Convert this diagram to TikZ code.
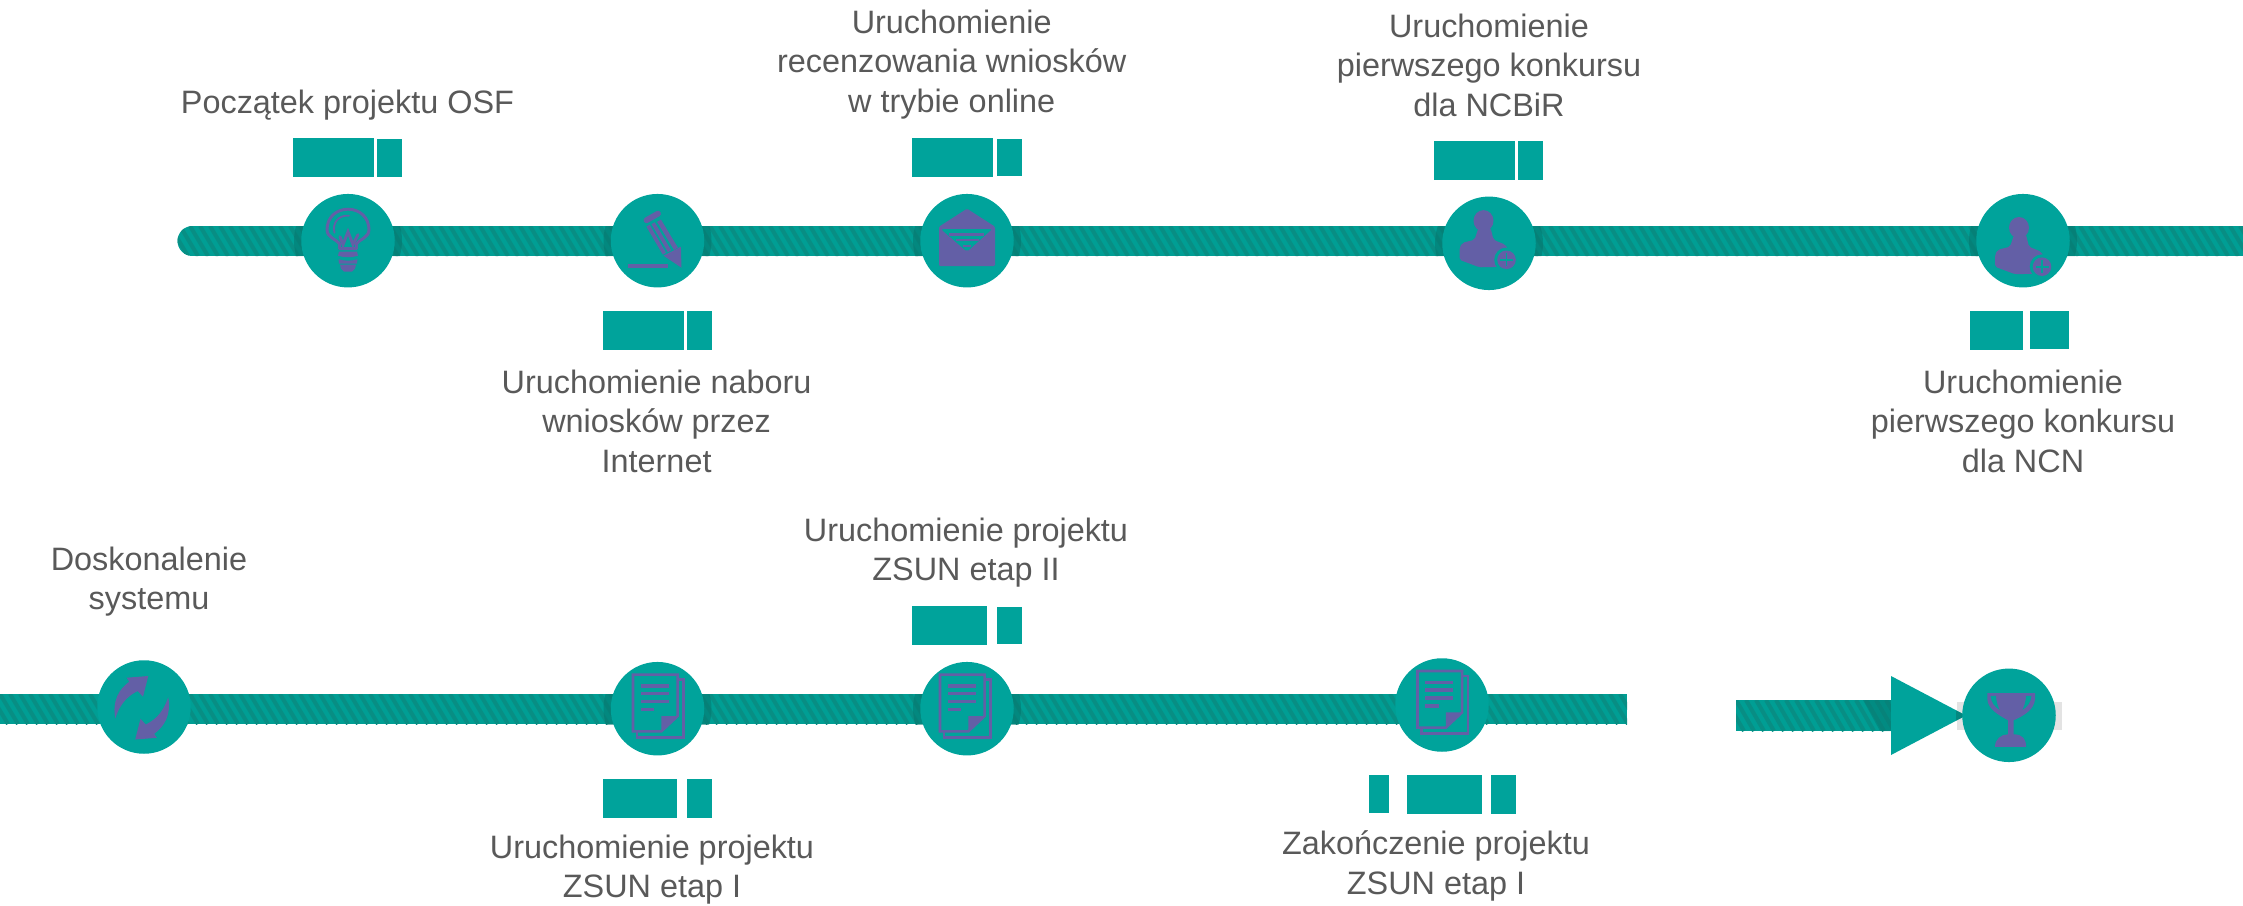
\documentclass[tikz,border=0pt]{standalone}
\usepackage{fontspec}
\setmainfont{Liberation Sans}
\definecolor{tealc}{RGB}{0,163,155}
\definecolor{barc}{RGB}{0,158,148}
\definecolor{stripec}{RGB}{8,142,132}
\definecolor{haloc}{RGB}{6,118,110}
\definecolor{iconc}{RGB}{99,95,166}
\definecolor{txtc}{RGB}{89,89,89}
\tikzset{
  block/.style={fill=tealc,draw=none,inner sep=0pt,minimum height=39*0.75pt},
  disc/.style={circle,fill=tealc,draw=none,inner sep=0pt,minimum size=93.5*0.75pt},
  lbl/.style={font=\fontsize{24.3pt}{29.8pt}\selectfont,text=txtc,align=center,inner sep=0pt,anchor=north},
  iconfill/.style={fill=iconc,draw=none},
  iconline/.style={draw=iconc,fill=none,line cap=round,line join=round},
  tealfill/.style={fill=tealc,draw=none},
  barbase/.style={fill=barc,draw=none},
  stripe/.style={draw=stripec,line width=3pt},
  halo/.style={fill=haloc,draw=none,opacity=.55},
}
% stripes across a band: x from, x to, y top, y bottom
\newcommand{\stripes}[4]{%
  \foreach \sx in {#1,\numexpr#1+10\relax,...,#2}{\draw[stripe] (\sx,#3) -- ++(18,{#4-#3});}}
\newcommand{\iconbulb}[2]{\begin{scope}[shift={(#1,#2)}]
  \draw[iconline,line width=2.2pt] (-8.5,8) -- (-8.5,3) .. controls (-11,-1) and (-21,-3) .. (-21,-11)
     .. controls (-21,-23) and (-12,-31.5) .. (0,-31.5) .. controls (12,-31.5) and (21,-23) .. (21,-11)
     .. controls (21,-3) and (11,-1) .. (8.5,3) -- (8.5,8) -- cycle;
  \draw[iconline,line width=1.4pt] (-13.5,-8) .. controls (-16,-17) and (-10,-26) .. (1,-25);
  \draw[iconline,line width=2.2pt,line join=miter] (-8,-4) -- (-5,4) -- (0,-9) -- (5,4) -- (10,-6);
  \fill[iconfill] (-9,11) -- (9,11) -- (10,15) .. controls (4,17) and (-4,17) .. (-10,15) -- cycle;
  \fill[iconfill] (-9.5,18.5) .. controls (-4,20.5) and (4,20.5) .. (9.5,18.5) -- (9,23) -- (-9,23) -- cycle;
  \fill[iconfill] (-8,24) -- (8,24) -- (7,28) -- (4,31) -- (-4,31) -- (-7,28) -- cycle;
\end{scope}}
\newcommand{\iconpencil}[2]{\begin{scope}[shift={(#1,#2)}]
  \fill[iconfill] (6,15) -- (23.4,6) -- (24,27) -- cycle;
  \draw[iconline,line width=4.4pt] (-11,-20.5) -- (0.5,-27);
  \draw[iconline,line width=2.8pt,line cap=butt] (-9.5,-15) -- (6.9,13);
  \draw[iconline,line width=2.8pt,line cap=butt] (-4.4,-17.5) -- (12,10.5);
  \draw[iconline,line width=3.4pt,line cap=butt] (1.5,-20) -- (18.4,8);
  \draw[iconline,line width=2.6pt,line cap=butt] (-30,25.3) -- (10.7,25.3);
\end{scope}}
\newcommand{\iconmail}[2]{\begin{scope}[shift={(#1,#2)}]
  \fill[iconfill,rounded corners=1pt] (-28,25.5) -- (28,25.5) -- (28,-14) -- (0,-32) -- (-28,-14) -- cycle;
  \fill[tealfill,rounded corners=1.5pt] (-26,-11.5) -- (25,-11.5) -- (0,11) -- cycle;
  \fill[iconfill] (-18,-7.5) rectangle (17,-5);
  \fill[iconfill] (-11,-1.5) rectangle (12,0.5);
  \fill[iconfill] (-4,4) rectangle (4,6);
\end{scope}}
\newcommand{\iconperson}[2]{\begin{scope}[shift={(#1,#2)}]
  \fill[iconfill] (-4,-13) ellipse [x radius=10,y radius=10.7];
  \fill[iconfill,rounded corners=1.5pt] (-28,26) -- (-28,14) -- (-25,9) -- (-13,6) -- (-9,-6) -- (3,-6) -- (6,6) -- (18,11) -- (24,22) -- (14,33) -- (-8,33.5) -- cycle;
  \fill[tealfill] (19,26) circle [radius=12.3];
  \fill[iconfill] (19,26) circle [radius=9.3];
  \fill[tealfill] (12.5,25.2) rectangle (25.5,26.8);
  \fill[tealfill] (18.2,19.5) rectangle (19.8,32.5);
\end{scope}}
\newcommand{\icondoc}[2]{\begin{scope}[shift={(#1,#2)}]
  \draw[iconline,line width=1.9pt,line cap=butt,line join=miter] (-27,-34) -- (17.7,-34) -- (17.7,7.3) -- (1.3,22.7) -- (-27,22.7) -- cycle;
  \draw[iconline,line width=1.9pt,line cap=butt,line join=miter] (-23,22.7) -- (-23,28.7) -- (23.7,28.7) -- (23.7,-29) -- (17.7,-29);
  \fill[iconfill] (1.3,7.3) -- (17.7,7.3) -- (1.3,22.7) -- cycle;
  \fill[iconfill] (-19.3,-24.5) rectangle (8.7,-21);
  \fill[iconfill] (-19.3,-17) rectangle (8.7,-13.5);
  \fill[iconfill] (-19.3,-9) rectangle (8.7,-5.5);
  \fill[iconfill] (-19.3,-1) rectangle (-5.7,2.5);
\end{scope}}
\newcommand{\iconarrowhalf}{\fill[iconfill] (-28.7,11.3) .. controls (-32,-6) and (-25,-18) .. (-14.7,-25.3) -- (-17.3,-29.3) -- (4.3,-31) -- (-1,-10.3) -- (-6.3,-16) .. controls (-14,-12) and (-23,-6) .. (-28.7,11.3) -- cycle;}
\newcommand{\iconcycle}[2]{\begin{scope}[shift={(#1,#2)}]
  \iconarrowhalf
  \begin{scope}[shift={(-4.5,1.5)},xscale=-1,yscale=-1]\iconarrowhalf\end{scope}
\end{scope}}
\newcommand{\icontrophy}[2]{\begin{scope}[shift={(#1,#2)}]
  \fill[iconfill] (-21.7,-22.3) -- (26,-22.3) -- (26,-16) .. controls (25,-6) and (16,0) .. (4.5,5) -- (4.5,19) .. controls (14,19) and (17,24) .. (17,31.5) -- (-14,31.5) .. controls (-14,24) and (-8,19) .. (-1,19) -- (-1,5) .. controls (-10,0) and (-21,-6) .. (-21.7,-16) -- cycle;
  \fill[tealfill] (-18.5,-19.5) -- (-13,-19.5) .. controls (-13,-14) and (-11,-9) .. (-9.5,-5.5) .. controls (-14,-8) and (-18,-13) .. (-18.5,-19.5) -- cycle;
  \fill[tealfill] (22.5,-19.5) -- (17,-19.5) .. controls (17,-14) and (15,-9) .. (13.5,-5.5) .. controls (18,-8) and (22,-13) .. (22.5,-19.5) -- cycle;
\end{scope}}
\begin{document}
\begin{tikzpicture}[x=0.75pt,y=-0.75pt]
\useasboundingbox (0,0) rectangle (2243,906);
% top bar
\coordinate (t0) at (192.5,241);
\coordinate (t1) at (2243,241);
\begin{scope}
  \clip (t0) ++(0,-15) -- ++(2100,0) -- ++(0,30) -- ++(-2100,0) arc[start angle=90,end angle=270,radius=15] -- cycle;
  \fill[barbase] (170,226) rectangle (2243,256);
  \stripes{170}{2243}{226}{256}
  \fill[halo] (348,240.7) circle [radius=54];
  \fill[halo] (657.5,240.7) circle [radius=54];
  \fill[halo] (967,240.7) circle [radius=54];
  \fill[halo] (1489,243.3) circle [radius=54];
  \fill[halo] (2023,240.7) circle [radius=54];
\end{scope}
% bottom bar
\coordinate (b0) at (0,709);
\coordinate (b1) at (1627,709);
\begin{scope}
  \clip (0,694) rectangle (1627,724);
  \fill[barbase] (0,694) rectangle (1627,724);
  \stripes{-20}{1627}{694}{724}
  \fill[halo] (657.5,708.7) circle [radius=54];
  \fill[halo] (967,708.7) circle [radius=54];
\end{scope}
% arrow
\fill[gray!22] (1957,702) rectangle (2062,730);
\coordinate (a0) at (1736,715.5);
\begin{scope}
  \clip (1736,700) rectangle (1892,731);
  \fill[barbase] (1736,700) rectangle (1892,731);
  \stripes{1716}{1892}{700}{731}
  \fill[haloc,opacity=.45] (1863,700) -- (1892,700) -- (1892,731) -- (1880,731) -- cycle;
\end{scope}
\fill[tealc] (1891,676) -- (1966,715.5) -- (1891,755) -- cycle;
\fill[haloc,opacity=.6] (1956,710.5) -- (1966,715.5) -- (1956,720.5) -- cycle;

% discs
\node[disc] (c1) at (348,240.7) {};
\node[disc] (c2) at (657.5,240.7) {};
\node[disc] (c3) at (967,240.7) {};
\node[disc] (c4) at (1489,243.3) {};
\node[disc] (c5) at (2023,240.7) {};
\node[disc] (c6) at (144,707) {};
\node[disc] (c7) at (657.5,708.7) {};
\node[disc] (c8) at (967,708.7) {};
\node[disc] (c9) at (1442,705) {};
\node[disc] (c10) at (2009,715.3) {};
% icons
\iconbulb{348}{240.7}
\iconpencil{657.5}{240.7}
\iconmail{967}{240.7}
\iconperson{1487.5}{233.8}
\iconperson{2023}{240.7}
\iconcycle{144}{707}
\icondoc{660}{708.7}
\icondoc{967}{708.7}
\icondoc{1444.5}{705}
\icontrophy{2009}{715.3}
% date blocks
\node[block,minimum width=81*0.75pt] (r1a) at (333.5,157.5) {};
\node[block,minimum width=25*0.75pt,minimum height=38*0.75pt] (r1b) at (389.5,158) {};
\node[block,minimum width=81*0.75pt] (r2a) at (643.5,330.5) {};
\node[block,minimum width=25*0.75pt] (r2b) at (699.5,330.5) {};
\node[block,minimum width=81*0.75pt] (r3a) at (952.5,157.5) {};
\node[block,minimum width=25*0.75pt,minimum height=37*0.75pt] (r3b) at (1009.5,157.5) {};
\node[block,minimum width=81*0.75pt] (r4a) at (1474.5,160.5) {};
\node[block,minimum width=25*0.75pt] (r4b) at (1530.5,160.5) {};
\node[block,minimum width=53*0.75pt] (r5a) at (1996.5,330.5) {};
\node[block,minimum width=39*0.75pt,minimum height=38*0.75pt] (r5b) at (2049.5,330) {};
\node[block,minimum width=74*0.75pt] (r7a) at (640,798.5) {};
\node[block,minimum width=25*0.75pt] (r7b) at (699.5,798.5) {};
\node[block,minimum width=75*0.75pt] (r8a) at (949.5,625.5) {};
\node[block,minimum width=25*0.75pt,minimum height=37*0.75pt] (r8b) at (1009.5,625.5) {};
\node[block,minimum width=20*0.75pt,minimum height=38*0.75pt] (r9a) at (1379,794) {};
\node[block,minimum width=75*0.75pt] (r9b) at (1444.5,794.5) {};
\node[block,minimum width=25*0.75pt] (r9c) at (1503.5,794.5) {};
% labels
\node[lbl] (l1) at (347.5,89.5) {Początek projektu OSF};
\node[lbl] (l3) at (951.7,9.5) {Uruchomienie\\recenzowania wniosków\\w trybie online};
\node[lbl] (l4) at (1489,13.5) {Uruchomienie\\pierwszego konkursu\\dla NCBiR};
\node[lbl] (l2) at (656.6,369.5) {Uruchomienie naboru\\wniosków przez\\Internet};
\node[lbl] (l5) at (2023,369.5) {Uruchomienie\\pierwszego konkursu\\dla NCN};
\node[lbl] (l6) at (149,546.5) {Doskonalenie\\systemu};
\node[lbl] (l8) at (966,517.5) {Uruchomienie projektu\\ZSUN etap II};
\node[lbl] (l7) at (652,834.5) {Uruchomienie projektu\\ZSUN etap I};
\node[lbl] (l9) at (1436,830.5) {Zakończenie projektu\\ZSUN etap I};
\end{tikzpicture}
\end{document}
